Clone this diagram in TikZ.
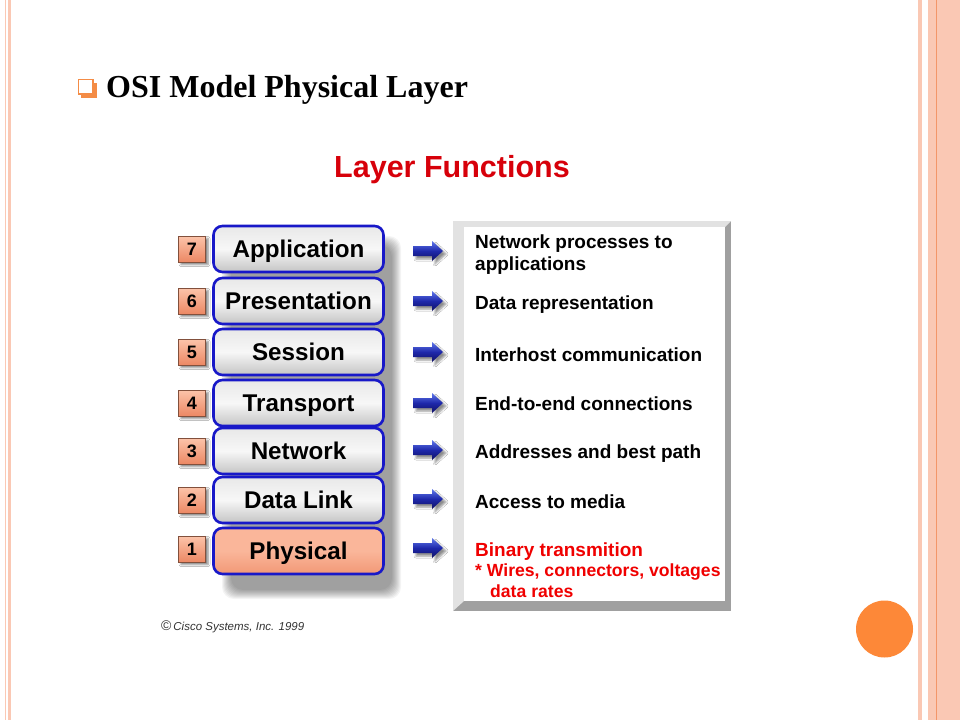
\documentclass[tikz,border=0pt]{standalone}
\usepackage{fontspec}
\setmainfont{Liberation Serif}
\newfontfamily\arialf{Liberation Sans}
\usetikzlibrary{shadows.blur}
\definecolor{slide}{RGB}{250,200,180}
\definecolor{slideline}{RGB}{243,150,105}
\definecolor{bulletor}{RGB}{244,140,70}
\definecolor{layerblue}{RGB}{24,24,200}
\definecolor{boxtop}{RGB}{232,232,232}
\definecolor{boxmid}{RGB}{247,247,247}
\definecolor{boxbot}{RGB}{196,196,196}
\definecolor{phystop}{RGB}{250,182,154}
\definecolor{physbot}{RGB}{242,152,118}
\definecolor{numtop}{RGB}{252,196,170}
\definecolor{numbot}{RGB}{236,136,100}
\definecolor{numedge}{RGB}{130,80,60}
\definecolor{titlered}{RGB}{215,0,10}
\definecolor{funcred}{RGB}{240,0,0}
\definecolor{arrtop}{RGB}{96,120,235}
\definecolor{arrmid}{RGB}{30,40,170}
\definecolor{arrbot}{RGB}{16,16,100}
\definecolor{circor}{RGB}{253,136,56}
\definecolor{panelgray}{RGB}{160,160,160}
\definecolor{panellight}{RGB}{226,226,226}
\begin{document}
\begin{tikzpicture}[x=1pt,y=-1pt,
  layerbox/.style={draw=layerblue, line width=2.6pt, rounded corners=9pt,
    minimum width=170pt, minimum height=46pt, inner sep=0pt,
    top color=boxtop, bottom color=boxbot, middle color=boxmid,
    text height=17pt, text depth=0pt,
    font=\arialf\bfseries\fontsize{24.2}{28}\selectfont},
  physbox/.style={layerbox, top color=phystop, bottom color=physbot, middle color=phystop},
  numbox/.style={draw=numedge, line width=0.7pt, minimum width=27pt, minimum height=26pt,
    inner sep=0pt, top color=numtop, bottom color=numbot,
    text height=13pt, text depth=0pt,
    font=\arialf\bfseries\fontsize{18}{20}\selectfont,
    blur shadow={shadow xshift=2.5pt, shadow yshift=-2.5pt, shadow blur radius=2pt, shadow opacity=50}},
  functext/.style={anchor=base west, inner sep=0pt, font=\arialf\bfseries\fontsize{19}{22}\selectfont},
  redtext/.style={functext, text=funcred},
  smallred/.style={redtext, font=\arialf\bfseries\fontsize{17.6}{20}\selectfont},
  larrow/.pic={
    \shade[top color=arrtop, bottom color=arrbot, middle color=arrmid,
      blur shadow={shadow xshift=3pt, shadow yshift=-3pt, shadow blur radius=2pt, shadow opacity=45}]
      (0,-5) -- (19,-5) -- (19,-10) -- (30,0) -- (19,10) -- (19,5) -- (0,5) -- cycle;
  }
]
\useasboundingbox (0,0) rectangle (960,720);
\fill[white] (0,0) rectangle (960,720);
% slide borders
\fill[slide] (4.8,0) rectangle (6.2,720);
\fill[slide] (7.5,0) rectangle (11,720);
\fill[slide] (918,0) rectangle (921.5,720);
\fill[slide] (927.5,0) rectangle (960,720);
\fill[slideline] (935.8,0) rectangle (937.2,720);
% bullet + title
\fill[bulletor] (81,83) rectangle (96.5,98);
\draw[bulletor, fill=white, line width=1.4pt] (78.5,79.5) rectangle (93,94);
\node[anchor=base west, inner sep=0pt, font=\bfseries\fontsize{32}{38}\selectfont] (title) at (106,97.5) {OSI Model Physical Layer};
% Layer Functions heading
\node[anchor=base west, inner sep=0pt, font=\arialf\bfseries\fontsize{30.5}{34}\selectfont, text=titlered] (lf) at (334,177) {Layer Functions};
% panel
\fill[panelgray] (453,221) rectangle (731,611);
\fill[panellight] (453,221) -- (731,221) -- (725,227) -- (464,227) -- (464,601) -- (453,611) -- cycle;
\fill[white] (464,227) rectangle (725,601);
% soft shadow behind the layer stack
\foreach \i in {0,...,9}
  \fill[black, opacity=0.045, rounded corners=12pt] (222+\i,236+\i) rectangle (401-\i,599-\i);
% layers
\node[layerbox] (l7) at (298.5,249) {Application};
\node[layerbox] (l6) at (298.5,301) {Presentation};
\node[layerbox] (l5) at (298.5,352) {Session};
\node[layerbox] (l4) at (298.5,403) {Transport};
\node[layerbox] (l3) at (298.5,451) {Network};
\node[layerbox] (l2) at (298.5,500) {Data Link};
\node[physbox] (l1) at (298.5,551) {Physical};
% numbers
\node[numbox] (n7) at (192,249) {7};
\node[numbox] (n6) at (192,301) {6};
\node[numbox] (n5) at (192,352) {5};
\node[numbox] (n4) at (192,403) {4};
\node[numbox] (n3) at (192,451) {3};
\node[numbox] (n2) at (192,500) {2};
\node[numbox] (n1) at (192,549) {1};
% arrows
\foreach \yy in {251,301,352,403,450,499,548}
  \pic at (413,\yy) {larrow};
% function texts
\node[functext] (f7a) at (475,248) {Network processes to};
\node[functext] (f7b) at (475,270) {applications};
\node[functext] (f6) at (475,309) {Data representation};
\node[functext] (f5) at (475,361.5) {Interhost communication};
\node[functext] (f4) at (475,410) {End-to-end connections};
\node[functext] (f3) at (475,458) {Addresses and best path};
\node[functext] (f2) at (475,508) {Access to media};
\node[redtext] (f1a) at (475,556) {Binary transmition};
\node[smallred] (f1b) at (475,576) {* Wires, connectors, voltages};
\node[smallred] (f1c) at (490,597) {data rates};
% copyright
\node[anchor=base west, inner sep=0pt, font=\arialf\itshape\fontsize{11.5}{13}\selectfont, text=black!80] (copy) at (161,630) {{\fontsize{14}{14}\selectfont\upshape ©}\,Cisco Systems, Inc. 1999};
% orange circle
\fill[circor] (884.5,629) circle[radius=28.5pt];
\end{tikzpicture}
\end{document}
